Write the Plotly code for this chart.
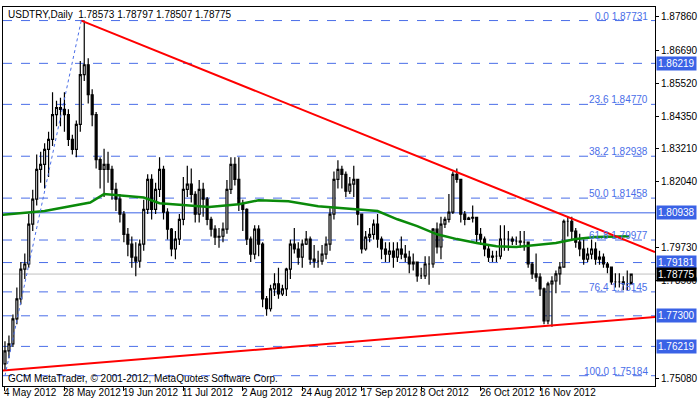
import plotly.graph_objects as go

# --- data ---
closes = [
    1.7606, 1.7631, 1.7719, 1.7790, 1.7895, 1.7913, 1.8054, 1.8142, 1.8247, 1.8265,
    1.8318, 1.8353, 1.8441, 1.8466, 1.8459, 1.8441, 1.8353, 1.8318, 1.8406, 1.8582,
    1.8617, 1.8511, 1.8441, 1.8282, 1.8247, 1.8265, 1.8247, 1.8177, 1.8142, 1.8089,
    1.8018, 1.7983, 1.7937, 1.7923, 1.7983, 1.8106, 1.8212, 1.8106, 1.8177, 1.8247,
    1.8096, 1.8036, 1.7966, 1.8001, 1.8071, 1.8177, 1.8195, 1.8159, 1.8089, 1.8177,
    1.8142, 1.8071, 1.8036, 1.8008, 1.8011, 1.8036, 1.8177, 1.8265, 1.8212, 1.8124,
    1.8106, 1.8001, 1.7948, 1.8036, 1.7983, 1.7790, 1.7755, 1.7825, 1.7843, 1.7807,
    1.7825, 1.7895, 1.7983, 1.7966, 1.7937, 1.7983, 1.8001, 1.7930, 1.7923, 1.7923,
    1.7948, 1.7983, 1.8089, 1.8212, 1.8247, 1.8230, 1.8170, 1.8195, 1.8212, 1.8089,
    1.7966, 1.8008, 1.8018, 1.8054, 1.8001, 1.7966, 1.7948, 1.7959, 1.7937, 1.7966,
    1.7948, 1.7937, 1.7913, 1.7920, 1.7871, 1.7871, 1.7913, 1.7913, 1.8036, 1.7973,
    1.8054, 1.8071, 1.8096, 1.8230, 1.8212, 1.8089, 1.8071, 1.8075, 1.8078, 1.8018,
    1.8001, 1.7966, 1.7937, 1.7941, 1.7941, 1.8001, 1.8001, 1.8001, 1.7994, 1.7994,
    1.7990, 1.7990, 1.7913, 1.7878, 1.7867, 1.7825, 1.7712, 1.7843, 1.7853, 1.7878,
    1.7902, 1.8064, 1.8064, 1.8029, 1.7990, 1.7966, 1.7930, 1.7948, 1.7966, 1.7930,
    1.7937, 1.7913, 1.7902, 1.7850, 1.7850, 1.7850, 1.7843, 1.7843, 1.78775,
]
highs = [
    1.7640, 1.7660, 1.7735, 1.7830, 1.7920, 1.7950, 1.8090, 1.8175, 1.8300, 1.8310,
    1.8340, 1.8380, 1.8520, 1.8490, 1.8500, 1.8520, 1.8460, 1.8370, 1.8420, 1.8630,
    1.8773, 1.8640, 1.8530, 1.8450, 1.8290, 1.8320, 1.8310, 1.8260, 1.8200, 1.8160,
    1.8100, 1.8040, 1.8010, 1.7990, 1.8000, 1.8140, 1.8230, 1.8230, 1.8200, 1.8290,
    1.8260, 1.8110, 1.8040, 1.8030, 1.8090, 1.8220, 1.8260, 1.8250, 1.8170, 1.8210,
    1.8200, 1.8150, 1.8080, 1.8050, 1.8040, 1.8060, 1.8210, 1.8290, 1.8290, 1.8290,
    1.8140, 1.8110, 1.8010, 1.8050, 1.8050, 1.7990, 1.7800, 1.7840, 1.7880, 1.7900,
    1.7840, 1.7900, 1.8000, 1.8040, 1.7990, 1.8000, 1.8030, 1.8010, 1.7980, 1.7960,
    1.7980, 1.8010, 1.8110, 1.8240, 1.8280, 1.8260, 1.8240, 1.8220, 1.8260, 1.8212,
    1.8090, 1.8030, 1.8040, 1.8070, 1.8090, 1.8010, 1.7990, 1.7990, 1.7990, 1.7990,
    1.8010, 1.7980, 1.7960, 1.7950, 1.7920, 1.7900, 1.7940, 1.7940, 1.8040, 1.8060,
    1.8080, 1.8080, 1.8160, 1.8240, 1.8250, 1.8212, 1.8100, 1.8080, 1.8120, 1.8080,
    1.8040, 1.8010, 1.7980, 1.7960, 1.7960, 1.8050, 1.8050, 1.8030, 1.8010, 1.8010,
    1.8030, 1.8030, 1.7990, 1.7920, 1.7950, 1.7880, 1.7830, 1.7850, 1.7870, 1.7890,
    1.7920, 1.8070, 1.8080, 1.8080, 1.8040, 1.8020, 1.8000, 1.7970, 1.8000, 1.7990,
    1.7960, 1.7950, 1.7920, 1.7900, 1.7880, 1.7880, 1.7870, 1.7890, 1.78797,
]
lows = [
    1.7536, 1.7580, 1.7620, 1.7700, 1.7770, 1.7860, 1.7900, 1.8030, 1.8120, 1.8200,
    1.8180, 1.8220, 1.8330, 1.8400, 1.8400, 1.8380, 1.8330, 1.8300, 1.8290, 1.8380,
    1.8560, 1.8480, 1.8400, 1.8250, 1.8180, 1.8150, 1.8200, 1.8140, 1.8100, 1.8060,
    1.7990, 1.7940, 1.7900, 1.7870, 1.7900, 1.7960, 1.8090, 1.8070, 1.8090, 1.8150,
    1.8070, 1.8000, 1.7940, 1.7930, 1.7980, 1.8050, 1.8150, 1.8130, 1.8060, 1.8060,
    1.8080, 1.8050, 1.8010, 1.7980, 1.7970, 1.7990, 1.8020, 1.8160, 1.8190, 1.8100,
    1.8030, 1.7980, 1.7920, 1.7930, 1.7940, 1.7760, 1.7730, 1.7745, 1.7800, 1.7790,
    1.7800, 1.7800, 1.7860, 1.7950, 1.7910, 1.7900, 1.7980, 1.7910, 1.7900, 1.7900,
    1.7910, 1.7930, 1.7960, 1.8070, 1.8180, 1.8180, 1.8150, 1.8160, 1.8150, 1.8050,
    1.7950, 1.7960, 1.7990, 1.8000, 1.7970, 1.7930, 1.7920, 1.7920, 1.7900, 1.7920,
    1.7930, 1.7920, 1.7880, 1.7890, 1.7850, 1.7860, 1.7860, 1.7840, 1.7900, 1.7950,
    1.7930, 1.8040, 1.8060, 1.8090, 1.8200, 1.8060, 1.8050, 1.8070, 1.8060, 1.7990,
    1.7980, 1.7940, 1.7920, 1.7920, 1.7920, 1.7930, 1.7960, 1.7960, 1.7980, 1.7980,
    1.7970, 1.7960, 1.7900, 1.7860, 1.7850, 1.7800, 1.7700, 1.7700, 1.7691, 1.7810,
    1.7840, 1.7900, 1.8010, 1.8000, 1.7970, 1.7940, 1.7910, 1.7920, 1.7930, 1.7910,
    1.7910, 1.7900, 1.7880, 1.7840, 1.7830, 1.7830, 1.7820, 1.7820, 1.78507,
]
opens = [1.7560] + closes[:-1]
bars = list(range(len(closes)))

# moving average (sampled points)
ma_x = [-1, 10, 21.5, 25, 35, 39, 51.5, 59, 64, 71.5, 79, 89, 94, 99, 104, 109, 114, 119, 124, 129, 134, 139, 144, 149, 157.5]
ma_y = [1.8086, 1.8100, 1.8130, 1.8160, 1.8148, 1.8128, 1.8114, 1.8124, 1.8138, 1.8135, 1.8117, 1.8106, 1.8100, 1.8071,
        1.8047, 1.8018, 1.8001, 1.7987, 1.7976, 1.7973, 1.7980, 1.7987, 1.8001, 1.8008, 1.8011]

fib_levels = [1.87731, 1.84770, 1.82938, 1.81458, 1.79977, 1.78145, 1.75184]
fib_names = ["0.0", "23.6", "38.2", "50.0", "61.8", "76.4", "100.0"]
hlines = [1.86219, 1.79181, 1.77300, 1.76219]
support = 1.80938
last_price = 1.78775

tick_bars = [0, 15, 30, 45, 60, 75, 90, 105, 120, 135]
tick_labels = ["4 May 2012", "28 May 2012", "19 Jun 2012", "11 Jul 2012", "2 Aug 2012",
               "24 Aug 2012", "17 Sep 2012", "8 Oct 2012", "26 Oct 2012", "16 Nov 2012"]
y_ticks = [1.87860, 1.86690, 1.85520, 1.84350, 1.83210, 1.82040, 1.79730, 1.78560, 1.75080]

FONT = "Liberation Sans"
FS = 10
BLUE = "#3a62e6"
FIBC = "#4a6ee8"

fig = go.Figure()
fig.add_trace(go.Candlestick(
    x=bars, open=opens, high=highs, low=lows, close=closes,
    increasing=dict(line=dict(color="black", width=1.2), fillcolor="white"),
    decreasing=dict(line=dict(color="black", width=1.2), fillcolor="black"),
    whiskerwidth=0, showlegend=False, hoverinfo="skip"))
fig.add_trace(go.Scatter(x=ma_x, y=ma_y, mode="lines", line=dict(color="#0a8a0a", width=2.5),
                         showlegend=False))
# trend lines
fig.add_trace(go.Scatter(x=[19.25, 164], y=[1.8773, 1.7955], mode="lines",
                         line=dict(color="red", width=2), showlegend=False))
fig.add_trace(go.Scatter(x=[-1, 164], y=[1.7536, 1.7726], mode="lines",
                         line=dict(color="red", width=2), showlegend=False))
# fibo diagonal
fig.add_trace(go.Scatter(x=[0, 19.25], y=[fib_levels[-1], fib_levels[0]], mode="lines",
                         line=dict(color=FIBC, width=1, dash="dot"), showlegend=False))

for lv, nm in zip(fib_levels, fib_names):
    fig.add_hline(y=lv, line=dict(color=FIBC, width=1, dash="dash"), layer="below")
    fig.add_annotation(x=0.992, xref="paper", y=lv, yanchor="bottom", xanchor="right", showarrow=False,
                       text=f"{nm} {lv:.5f}", font=dict(family=FONT, size=FS, color=FIBC), yshift=-3)
for lv in hlines:
    fig.add_hline(y=lv, line=dict(color=FIBC, width=1, dash="dash"), layer="below")
fig.add_hline(y=support, line=dict(color=BLUE, width=1), layer="below")
fig.add_hline(y=last_price, line=dict(color="#c0c0c0", width=1), layer="below")

for lv in hlines + [support]:
    fig.add_annotation(x=1.0, xref="paper", y=lv, xanchor="left", showarrow=False, text=f"{lv:.5f}",
                       bgcolor=BLUE, font=dict(family=FONT, size=FS, color="white"), borderpad=1, xshift=1)
fig.add_annotation(x=1.0, xref="paper", y=last_price, xanchor="left", showarrow=False, text=f"{last_price:.5f}",
                   bgcolor="black", font=dict(family=FONT, size=FS, color="white"), borderpad=1, xshift=1)

for b, t in zip(tick_bars, tick_labels):
    fig.add_annotation(x=b, y=0, yref="paper", xanchor="left", yanchor="top", showarrow=False, text=t,
                       font=dict(family=FONT, size=FS, color="black"), xshift=-3, yshift=1)

fig.add_annotation(x=0.005, xref="paper", y=1.0, yref="paper", xanchor="left", yanchor="top", showarrow=False,
                   text="USDTRY,Daily  1.78573 1.78797 1.78507 1.78775",
                   font=dict(family=FONT, size=FS, color="black"))
fig.add_annotation(x=0.005, xref="paper", y=0.0, yref="paper", xanchor="left", yanchor="bottom", showarrow=False,
                   text="GCM MetaTrader, © 2001-2012, MetaQuotes Software Corp.",
                   font=dict(family=FONT, size=FS, color="black"))

fig.update_layout(
    width=700, height=402, paper_bgcolor="white", plot_bgcolor="white",
    margin=dict(l=2, r=40, t=7, b=16),
    xaxis=dict(range=[-0.5, 164], rangeslider=dict(visible=False), showgrid=False, zeroline=False,
               tickvals=tick_bars, showticklabels=False, ticks="outside", ticklen=4, tickcolor="black",
               showline=True, linecolor="black", mirror=True),
    yaxis=dict(range=[1.7482, 1.8821], side="right", showgrid=False, zeroline=False,
               tickvals=y_ticks, ticktext=[f"{v:.5f}" for v in y_ticks], ticks="outside", ticklen=3,
               tickcolor="black", tickfont=dict(family=FONT, size=FS, color="black"),
               showline=True, linecolor="black", mirror=True),
)
fig.write_html("out.html", config={"displayModeBar": False},
               post_script="document.body.style.margin='0';")
